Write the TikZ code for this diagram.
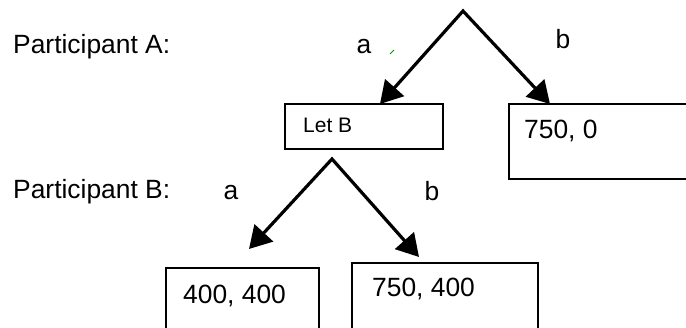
\documentclass[tikz,border=0pt]{standalone}
\usepackage{fontspec}
\setmainfont{Liberation Sans}
\usetikzlibrary{arrows.meta}
\begin{document}
\begin{tikzpicture}[x=1pt,y=-1pt,
  txt/.style={inner sep=0pt,font=\fontsize{26.4}{30}\selectfont},
  small/.style={inner sep=0pt,font=\fontsize{21}{25}\selectfont},
  box/.style={draw,line width=1.3pt,inner sep=0pt},
  arr/.style={line width=3.2pt,line join=miter,{Triangle[length=22pt,width=25pt]}-{Triangle[length=22pt,width=25pt]}}]
\useasboundingbox (0,0) rectangle (686,328);
% labels
\node[txt,anchor=base west] (pa) at (13,54) {Participant A:};
\node[txt,anchor=base west] (pb) at (13,199) {Participant B:};
\node[txt] (la1) at (364,47) {a};
\node[txt] (lb1) at (563,39) {b};
\node[txt] (la2) at (231,193) {a};
\node[txt] (lb2) at (432,191) {b};
\draw[green!60!black,line width=1pt] (390,54) -- (394,50);
% boxes
\draw[box] (285,104) rectangle (443,149);
\draw[box] (700,104) -- (509,104) -- (509,179) -- (700,179);
\draw[box] (166,340) -- (166,268) -- (319,268) -- (319,340);
\draw[box] (352,340) -- (352,263) -- (538,263) -- (538,340);
\node[small,anchor=base west] (letb) at (303,133) {Let B};
\node[txt,anchor=base west] (n750a) at (524,139) {750, 0};
\node[txt,anchor=base west] (n400) at (183,304) {400, 400};
\node[txt,anchor=base west] (n750b) at (372,297) {750, 400};
% tree
\coordinate (topA) at (463,11);
\coordinate (tipAa) at (380,104);
\coordinate (tipAb) at (550,104);
\coordinate (topB) at (332,159);
\coordinate (tipBa) at (249,249);
\coordinate (tipBb) at (419,257);
\draw[arr] (tipAa) -- (topA) -- (tipAb);
\draw[arr] (tipBa) -- (topB) -- (tipBb);
\end{tikzpicture}
\end{document}
